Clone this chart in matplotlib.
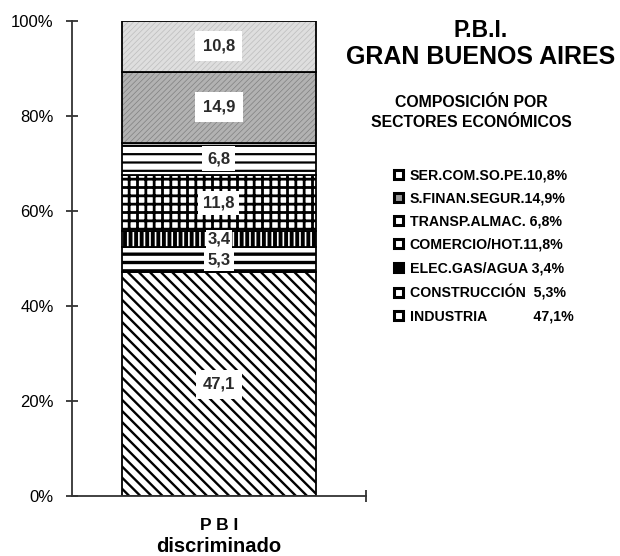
import matplotlib
matplotlib.use('Agg')
import matplotlib.pyplot as plt
from matplotlib.patches import Patch

plt.rcParams['font.family'] = ['Liberation Sans', 'DejaVu Sans']

# sectors from bottom to top of the stacked bar
sectores = ['INDUSTRIA', 'CONSTRUCCIÓN', 'ELEC.GAS/AGUA', 'COMERCIO/HOT.',
            'TRANSP.ALMAC.', 'S.FINAN.SEGUR.', 'SER.COM.SO.PE.']
valores = [47.1, 5.3, 3.4, 11.8, 6.8, 14.9, 10.8]
etiquetas = ['47,1', '5,3', '3,4', '11,8', '6,8', '14,9', '10,8']
leyenda = ['INDUSTRIA            47,1%', 'CONSTRUCCIÓN  5,3%', 'ELEC.GAS/AGUA 3,4%',
           'COMERCIO/HOT.11,8%', 'TRANSP.ALMAC. 6,8%', 'S.FINAN.SEGUR.14,9%',
           'SER.COM.SO.PE.10,8%']
yticks = [0, 20, 40, 60, 80, 100]

# face colour, hatch, hatch colour, hatch linewidth
estilos = [
    ('white', '\\\\\\', 'black', 1.7),
    ('white', '--', 'black', 2.4),
    ('white', '|||', 'black', 2.8),
    ('white', '++', 'black', 2.0),
    ('white', '--', 'black', 1.6),
    ('#b2b2b2', '//////', '#808080', 0.5),
    ('#dedede', '//////', '#bdbdbd', 0.5),
]
# legend swatches: face colour of the small squares
caja_leyenda = ['white', 'white', 'black', 'white', 'white', '#9a9a9a', 'white']
pads = [0.42, 0.2, 0.08, 0.28, 0.3, 0.45, 0.45]

fig = plt.figure(figsize=(6.2, 5.56), dpi=100)
ax = fig.add_axes([0.116, 0.108, 0.474, 0.854])

ancho = 0.66
base = 0
for val, lab, (fc, h, hc, hlw), pad in zip(valores, etiquetas, estilos, pads):
    with plt.rc_context({'hatch.linewidth': hlw}):
        b = ax.bar(0, val, ancho, bottom=base, color=fc, edgecolor=hc,
                   linewidth=0, hatch=h)
    for p in b:
        if hasattr(p, 'set_hatch_linewidth'):
            p.set_hatch_linewidth(hlw)
    ax.bar(0, val, ancho, bottom=base, fill=False, edgecolor='black', linewidth=1.3)
    ax.text(0, base + val / 2, lab, ha='center', va='center', fontsize=12,
            fontweight='bold', color='#2a2a2a',
            bbox=dict(boxstyle='square,pad=%s' % pad, fc='white', ec='none'))
    base += val

ax.set_xlim(-0.5, 0.5)
ax.set_ylim(0, 100)
ax.spines['top'].set_visible(False)
ax.spines['right'].set_visible(False)
for s in ['left', 'bottom']:
    ax.spines[s].set_linewidth(1.3)
    ax.spines[s].set_color('#333333')

ax.set_yticks(yticks, [f'{v}%' for v in yticks])
ax.tick_params(axis='y', direction='inout', length=8, width=1.3, color='#333333',
               labelsize=12, pad=9)
ax.set_xticks([0], ['P B I'])
ax.set_xticks([0.5], minor=True)
ax.tick_params(axis='x', which='major', length=0, pad=16, labelsize=12.5)
ax.tick_params(axis='x', which='minor', direction='inout', length=8, width=1.3,
               color='#333333')
for t in ax.get_xticklabels():
    t.set_fontweight('bold')
ax.set_xlabel('discriminado', fontsize=14.5, fontweight='bold', labelpad=3)

fig.text(0.775, 0.946, 'P.B.I.', ha='center', va='center', fontsize=16.5,
         fontweight='bold')
fig.text(0.775, 0.897, 'GRAN BUENOS AIRES', ha='center', va='center', fontsize=18,
         fontweight='bold')
fig.text(0.76, 0.798, 'COMPOSICIÓN POR\nSECTORES ECONÓMICOS', ha='center',
         va='center', fontsize=11.4, fontweight='bold', linespacing=1.45)

handles = [Patch(facecolor=cf, edgecolor='black', linewidth=2.2)
           for cf in caja_leyenda]
fig.legend(handles[::-1], leyenda[::-1], loc='upper left',
           bbox_to_anchor=(0.615, 1 - 156 / 556), frameon=False,
           prop={'size': 10.2, 'weight': 'bold'}, handlelength=0.6, handleheight=0.6,
           handletextpad=0.5, labelspacing=0.64)

fig.savefig('out.png', dpi=100)
